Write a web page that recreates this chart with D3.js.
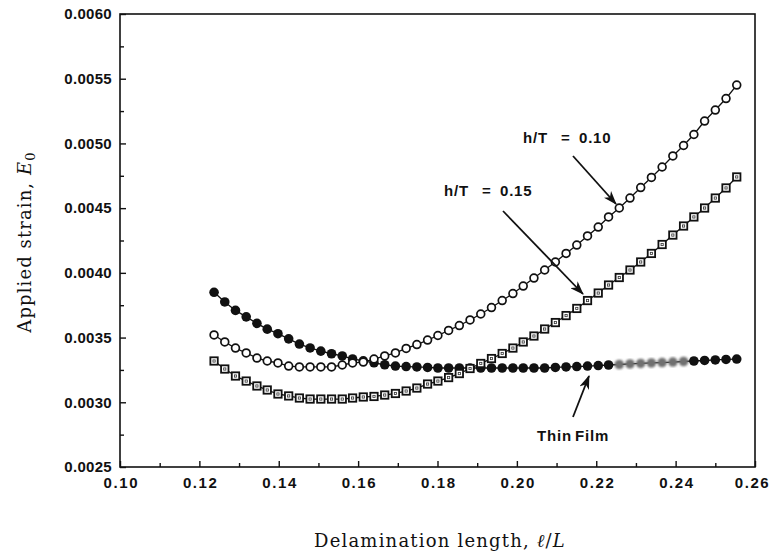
<!DOCTYPE html>
<html><head><meta charset="utf-8">
<script src="https://cdn.jsdelivr.net/npm/d3@7"></script>
<style>body{margin:0;background:#fff}svg{display:block}</style>
</head><body><svg id="c" width="773" height="556"></svg>
<script>
// ---- data ----
const lengthRatio = [0.1237,0.1264,0.1291,0.1318,0.1345,0.1371,0.1398,0.1425,0.1452,0.1479,
  0.1506,0.1533,0.1560,0.1586,0.1613,0.1640,0.1667,0.1694,0.1721,0.1748,
  0.1775,0.1801,0.1828,0.1855,0.1882,0.1909,0.1936,0.1963,0.1990,0.2016,
  0.2043,0.2070,0.2097,0.2124,0.2151,0.2178,0.2205,0.2231,0.2258,0.2285,
  0.2312,0.2339,0.2366,0.2393,0.2420,0.2446,0.2473,0.2500,0.2527,0.2554];
const thinFilm = [0.00385,0.003775,0.00371,0.00366,0.00361,0.003565,0.00353,0.00349,0.00345,0.00342,
  0.003395,0.003375,0.003358,0.003335,0.00332,0.003305,0.00329,0.00328,0.003276,0.003273,
  0.003269,0.003265,0.003265,0.003265,0.003265,0.003265,0.003265,0.003265,0.003265,0.003265,
  0.003265,0.003265,0.003269,0.003273,0.003276,0.00328,0.003284,0.003288,0.003292,0.003296,
  0.0033,0.003304,0.003307,0.003311,0.003315,0.003319,0.003323,0.003327,0.003331,0.003334];
const hT010 = [0.00352,0.003466,0.003419,0.003381,0.003342,0.003319,0.003304,0.00328,0.003273,0.003273,
  0.003273,0.003273,0.003288,0.003304,0.003311,0.003334,0.003358,0.003381,0.003416,0.003446,
  0.003481,0.003516,0.003555,0.003593,0.003636,0.003682,0.003732,0.003786,0.00384,0.003898,
  0.00396,0.004022,0.004084,0.00415,0.004215,0.004285,0.004354,0.004432,0.004501,0.004578,
  0.004659,0.004737,0.004818,0.004903,0.004984,0.005069,0.005173,0.005258,0.005347,0.005451];
const hT015 = [0.003319,0.003257,0.003203,0.003164,0.003126,0.003095,0.003064,0.003049,0.003033,0.003025,
  0.003025,0.003025,0.003025,0.003033,0.003041,0.003045,0.003056,0.003068,0.003087,0.00311,
  0.003141,0.003164,0.003191,0.003222,0.003261,0.0033,0.003338,0.003377,0.003419,0.003466,
  0.003512,0.003566,0.003616,0.00367,0.003725,0.003786,0.003844,0.003906,0.003964,0.004022,
  0.004084,0.00415,0.004219,0.004292,0.004362,0.004432,0.004501,0.004578,0.004656,0.004741];
const xTickValues = [0.10,0.12,0.14,0.16,0.18,0.20,0.22,0.24,0.26];
const xMinorTicks = [0.11,0.13,0.15,0.17,0.19,0.21,0.23,0.25];
const yTickValues = [0.0025,0.0030,0.0035,0.0040,0.0045,0.0050,0.0055,0.0060];
const yMinorTicks = [0.00275,0.00325,0.00375,0.00425,0.00475,0.00525,0.00575];

// ---- layout ----
const svg = d3.select("#c");
const x = d3.scaleLinear([0.10,0.26],[120,755]);
const y = d3.scaleLinear([0.0025,0.0060],[467,14]);
const sans = "'Liberation Sans', Arial, sans-serif";
const serif = "'DejaVu Serif', serif";

const defs = svg.append("defs");
defs.append("marker").attr("id","arr").attr("viewBox","0 0 14 10")
  .attr("refX",13).attr("refY",5).attr("markerWidth",14).attr("markerHeight",10)
  .attr("markerUnits","userSpaceOnUse").attr("orient","auto")
  .append("path").attr("d","M0,0 L14,5 L0,10 L4,5 Z").attr("fill","#111");
defs.append("filter").attr("id","blur").append("feGaussianBlur").attr("stdDeviation",0.9);

// frame
svg.append("rect").attr("x",120).attr("y",14).attr("width",635).attr("height",453)
  .attr("fill","none").attr("stroke","#111").attr("stroke-width",1.6);

// axes
const xAxis = svg.append("g").attr("transform","translate(0,467)")
  .call(d3.axisBottom(x).tickValues(xTickValues).tickSize(-6).tickPadding(10)
        .tickFormat(d3.format(".2f")));
svg.append("g").attr("transform","translate(0,467)")
  .call(d3.axisBottom(x).tickValues(xMinorTicks).tickSize(-4).tickFormat(""));
const yAxis = svg.append("g").attr("transform","translate(120,0)")
  .call(d3.axisLeft(y).tickValues(yTickValues).tickSize(-6).tickPadding(8)
        .tickFormat(d3.format(".4f")));
svg.append("g").attr("transform","translate(120,0)")
  .call(d3.axisLeft(y).tickValues(yMinorTicks).tickSize(-4).tickFormat(""));
svg.selectAll(".domain").remove();
svg.selectAll(".tick line").attr("stroke","#111").attr("stroke-width",1.4);
xAxis.selectAll("text").attr("font-family",sans).attr("font-size",15).attr("font-weight","bold")
  .attr("letter-spacing","1.6px").attr("fill","#111").attr("dy","0.72em")
  .attr("dx",(d,i,n)=> i===n.length-1 ? "-3px" : "0.8px");
yAxis.selectAll("text").attr("font-family",sans).attr("font-size",15).attr("font-weight","bold")
  .attr("letter-spacing","0.3px").attr("fill","#111");

// axis titles
const yt = svg.append("text").attr("transform","translate(31,242) rotate(-90)")
  .attr("text-anchor","middle").attr("font-family",serif).attr("font-size",18)
  .attr("letter-spacing","1.1px").attr("fill","#111");
yt.append("tspan").text("Applied strain, ");
yt.append("tspan").attr("font-style","italic").text("E");
yt.append("tspan").attr("font-size",13).attr("dy",4).text("0");
const xt = svg.append("text").attr("x",440).attr("y",547)
  .attr("text-anchor","middle").attr("font-family",serif).attr("font-size",18)
  .attr("letter-spacing","1.2px").attr("fill","#111");
xt.append("tspan").text("Delamination length, ");
xt.append("tspan").attr("font-style","italic").text("ℓ");
xt.append("tspan").text("/");
xt.append("tspan").attr("font-style","italic").text("L");

// curves
const line = d3.line().x((d,i)=>x(lengthRatio[i])).y(d=>y(d));
[thinFilm,hT010,hT015].forEach(s=>{
  svg.append("path").datum(s).attr("d",line).attr("fill","none")
    .attr("stroke","#111").attr("stroke-width",1.3);
});

// thin film markers (filled circles)
const faded = v => v>0.224 && v<0.243;
svg.append("g").selectAll("circle").data(thinFilm).join("circle")
  .attr("cx",(d,i)=>x(lengthRatio[i])).attr("cy",d=>y(d)).attr("r",4.8)
  .attr("fill",(d,i)=>faded(lengthRatio[i])?"#707070":"#111")
  .attr("filter",(d,i)=>faded(lengthRatio[i])?"url(#blur)":null);

// h/T = 0.10 markers (open circles)
svg.append("g").selectAll("circle").data(hT010).join("circle")
  .attr("cx",(d,i)=>x(lengthRatio[i])).attr("cy",d=>y(d)).attr("r",3.9)
  .attr("fill","#fff").attr("stroke","#111").attr("stroke-width",1.7);

// h/T = 0.15 markers (squares with dot)
const sq = svg.append("g").selectAll("g").data(hT015).join("g")
  .attr("transform",(d,i)=>`translate(${x(lengthRatio[i])},${y(d)})`);
sq.append("rect").attr("x",-3.7).attr("y",-3.7).attr("width",7.4).attr("height",7.4)
  .attr("fill","#fff").attr("stroke","#111").attr("stroke-width",1.8);
sq.append("rect").attr("x",-1.1).attr("y",-1.1).attr("width",2.2).attr("height",2.2)
  .attr("fill","none").attr("stroke","#333").attr("stroke-width",0.8);

// annotations (label pieces placed as in the figure)
const ann = svg.append("g").attr("font-family",sans).attr("font-weight","bold")
  .attr("font-size",15).attr("letter-spacing","0.8px").attr("fill","#111");
function label(x0, yb, a, b, c){
  const t = ann.append("text").attr("y",yb);
  t.append("tspan").attr("x",x0).text(a);
  t.append("tspan").attr("x",x0+38).text(b);
  t.append("tspan").attr("x",x0+56).text(c);
}
label(523,143,"h/T","=","0.10");
label(444,196,"h/T","=","0.15");
const tf = ann.append("text").attr("y",441);
tf.append("tspan").attr("x",537).text("Thin");
tf.append("tspan").attr("x",575).text("Film");
const arrows = [[573,156,616,204],[503,211,583,294],[573,417,589,376]];
svg.append("g").selectAll("line").data(arrows).join("line")
  .attr("x1",d=>d[0]).attr("y1",d=>d[1]).attr("x2",d=>d[2]).attr("y2",d=>d[3])
  .attr("stroke","#111").attr("stroke-width",1.8).attr("marker-end","url(#arr)");
</script>
</body></html>
